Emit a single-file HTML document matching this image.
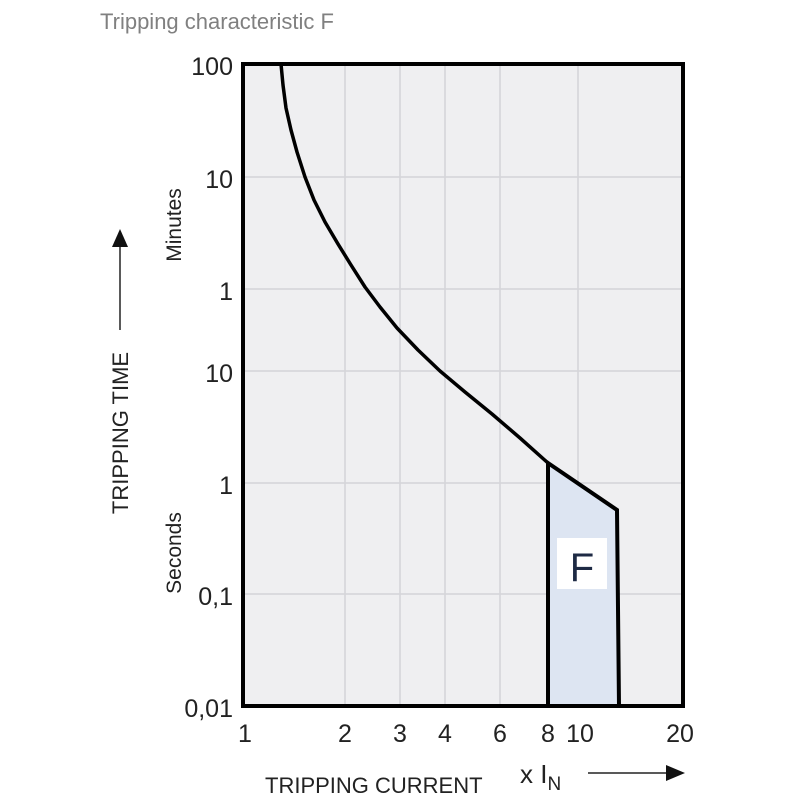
<!DOCTYPE html>
<html><head><meta charset="utf-8"><style>
body{margin:0;background:#fff;}
svg{display:block;font-family:"Liberation Sans",sans-serif;}
</style></head><body>
<svg width="800" height="800" viewBox="0 0 800 800">
<text x="100" y="29" font-size="22" fill="#808080">Tripping characteristic F</text>
<rect x="243" y="64" width="440" height="642" fill="#efeff1"/>
<g stroke="#d4d4d8" stroke-width="1.5">
<line x1="345" y1="64" x2="345" y2="706"/>
<line x1="400" y1="64" x2="400" y2="706"/>
<line x1="445" y1="64" x2="445" y2="706"/>
<line x1="500" y1="64" x2="500" y2="706"/>
<line x1="578" y1="64" x2="578" y2="706"/>
<line x1="243" y1="177" x2="683" y2="177"/>
<line x1="243" y1="289" x2="683" y2="289"/>
<line x1="243" y1="371" x2="683" y2="371"/>
<line x1="243" y1="483" x2="683" y2="483"/>
<line x1="243" y1="594" x2="683" y2="594"/>
</g>
<polygon points="548,463 617,510 619,706 548,706" fill="#dde5f2" stroke="#000" stroke-width="4" stroke-linejoin="miter"/>
<rect x="557" y="538" width="50" height="51" fill="#fff"/>
<text x="582" y="581" font-size="40" fill="#1e2a44" text-anchor="middle">F</text>
<polyline points="281,64 283,85 286,108 291,130 297,152 305,177 314,200 325,222 338,244 351,265 365,287 380,307 397,328 418,350 440,371 465,392 492,414 520,438 548,463" fill="none" stroke="#000" stroke-width="3.5" stroke-linejoin="round"/>
<rect x="243" y="64" width="440" height="642" fill="none" stroke="#000" stroke-width="4"/>
<g font-size="25" fill="#222" text-anchor="end">
<text x="233" y="75">100</text>
<text x="233" y="188">10</text>
<text x="233" y="300">1</text>
<text x="233" y="382">10</text>
<text x="233" y="494">1</text>
<text x="233" y="605">0,1</text>
<text x="233" y="717">0,01</text>
</g>
<g font-size="25" fill="#222" text-anchor="middle">
<text x="245" y="742">1</text>
<text x="345" y="742">2</text>
<text x="400" y="742">3</text>
<text x="445" y="742">4</text>
<text x="500" y="742">6</text>
<text x="548" y="742">8</text>
<text x="580" y="742">10</text>
<text x="680" y="742">20</text>
</g>
<text transform="translate(181,225) rotate(-90)" font-size="21" fill="#222" text-anchor="middle">Minutes</text>
<text transform="translate(181,553) rotate(-90)" font-size="21" fill="#222" text-anchor="middle">Seconds</text>
<text transform="translate(128,433) rotate(-90)" font-size="22" fill="#222" text-anchor="middle">TRIPPING TIME</text>
<line x1="120" y1="330" x2="120" y2="245" stroke="#222" stroke-width="1.5"/>
<polygon points="112,247 128,247 120,229" fill="#111"/>
<text x="265" y="793" font-size="22" fill="#222">TRIPPING CURRENT</text>
<text x="520" y="783" font-size="26" fill="#222">x I<tspan font-size="19" dy="7">N</tspan></text>
<line x1="588" y1="773" x2="668" y2="773" stroke="#222" stroke-width="1.5"/>
<polygon points="666,765 666,781 685,773" fill="#111"/>
</svg>
</body></html>
